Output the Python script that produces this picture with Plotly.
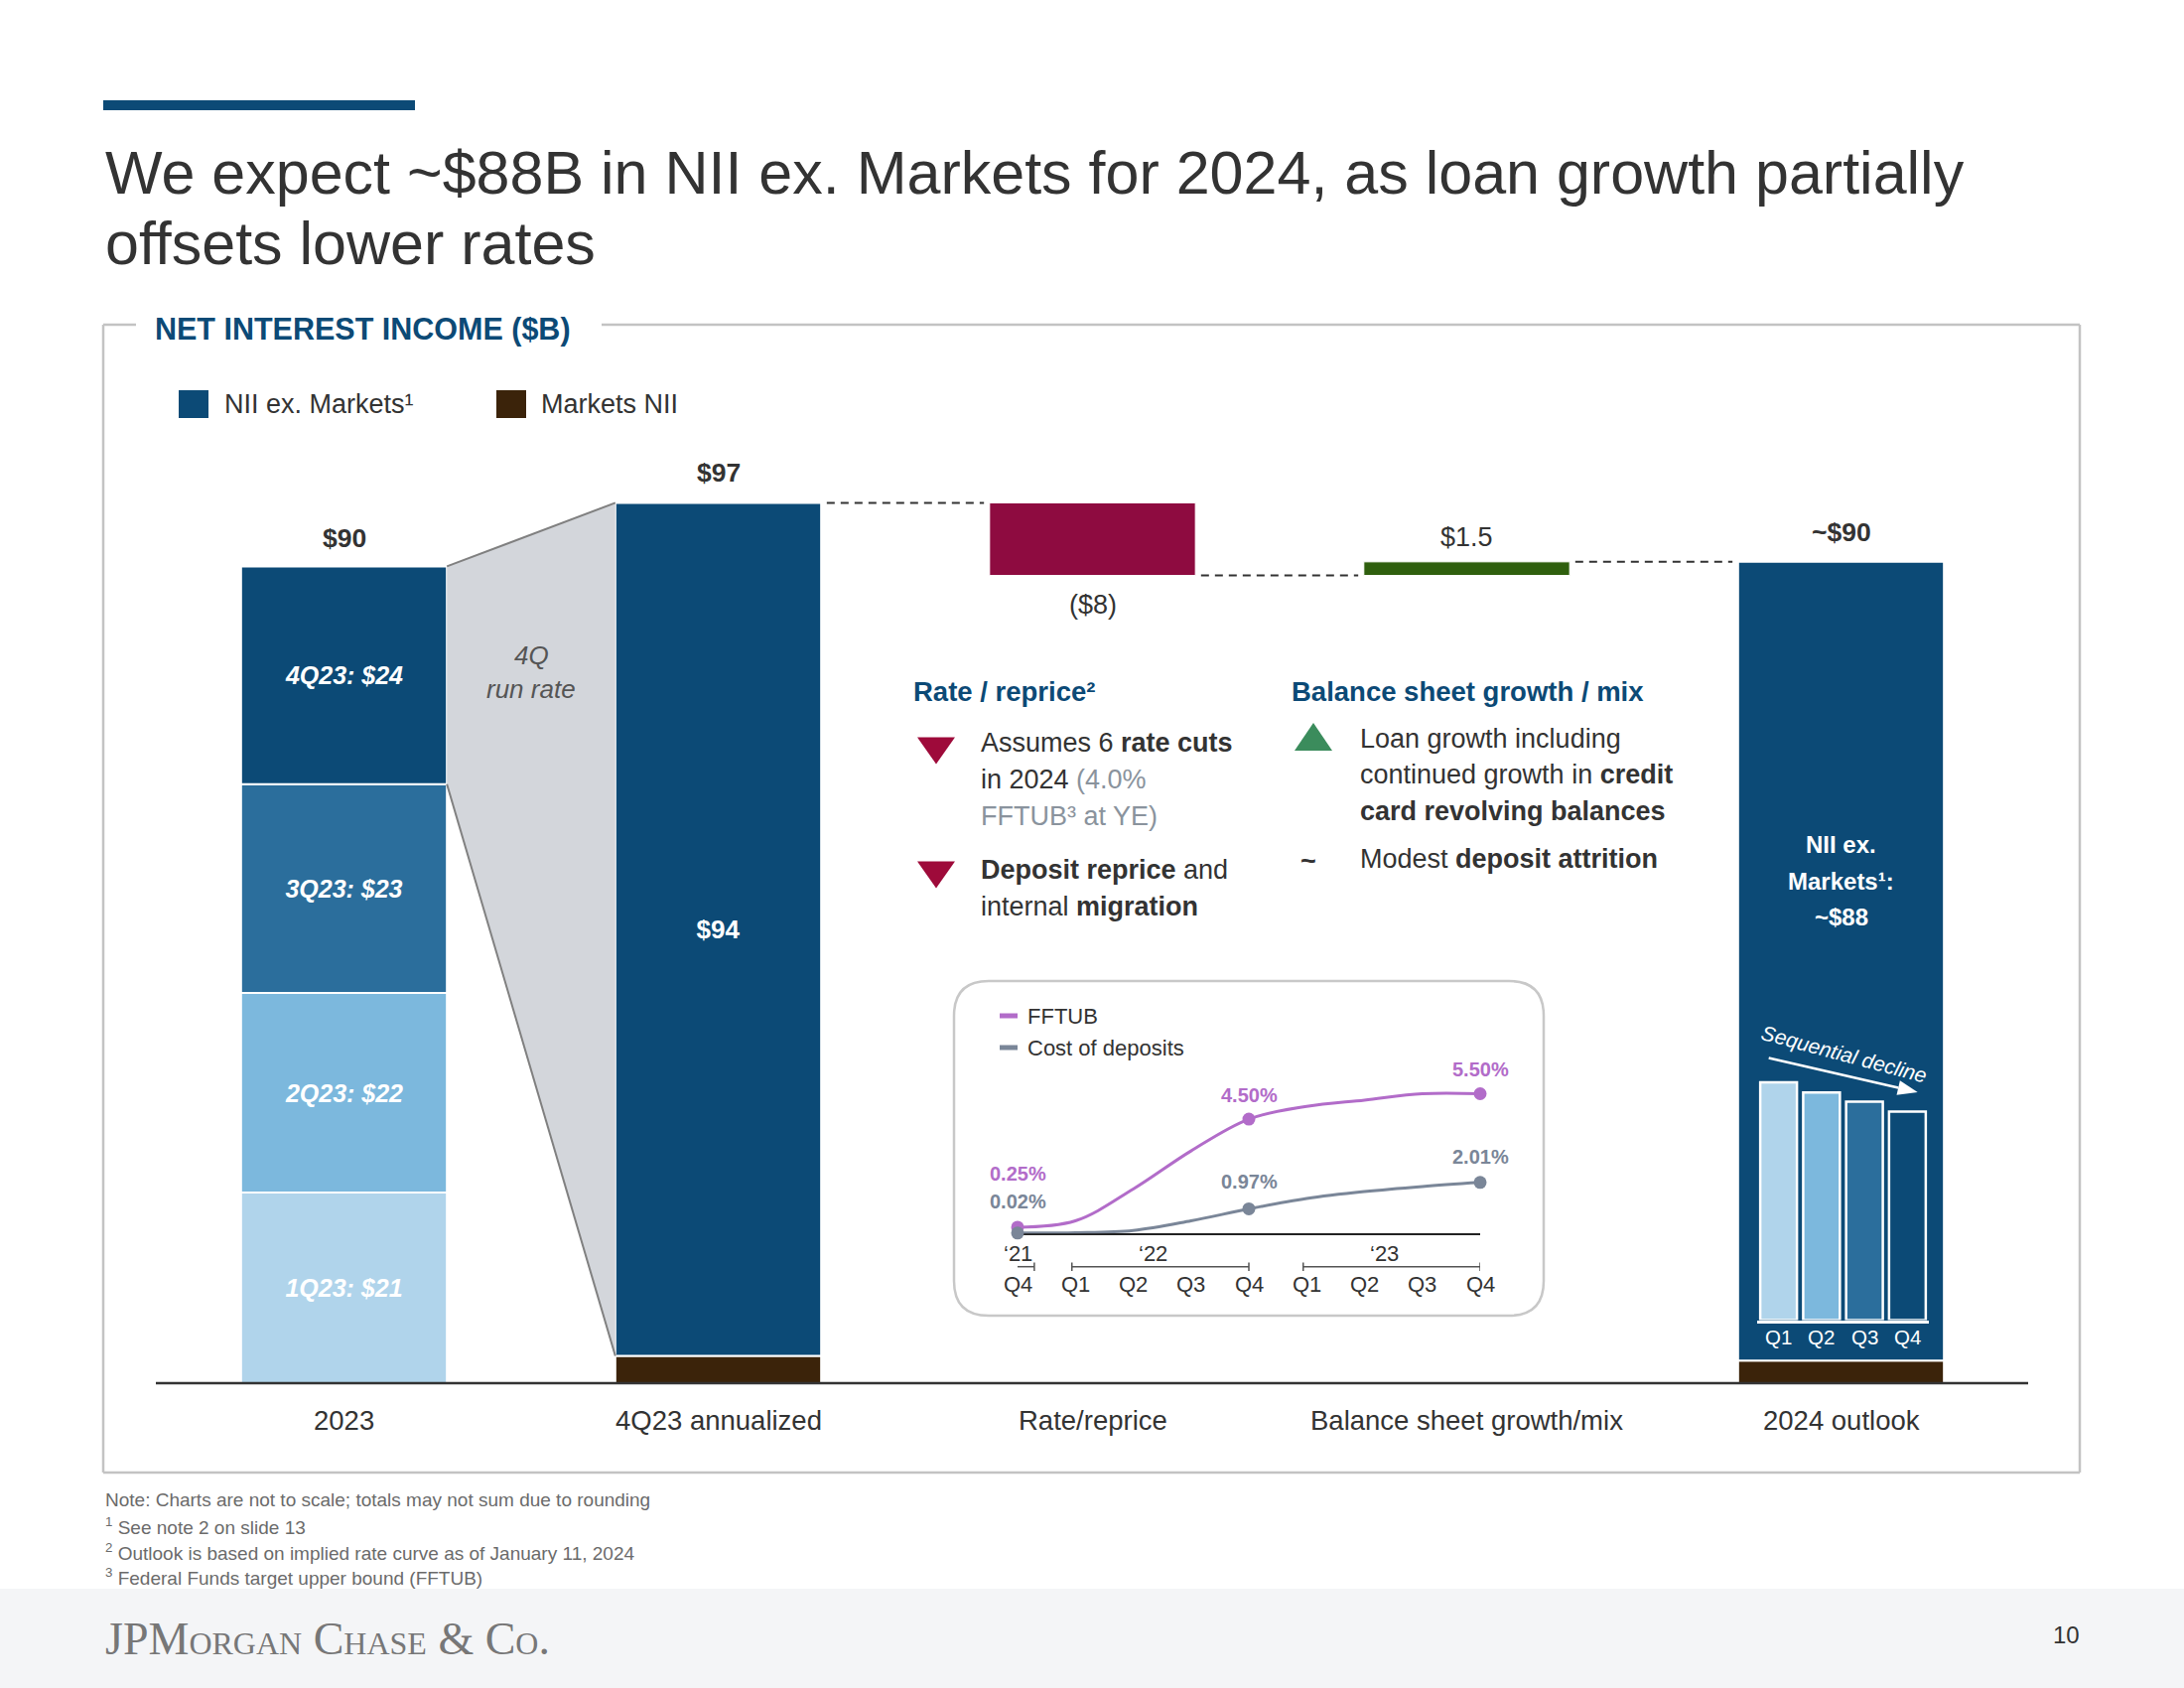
import math
import plotly.graph_objects as go

W, H = 2200, 1700
def px(x): return x / W
def py(y): return 1 - y / H

FONT = "Liberation Sans, Arial, Helvetica, sans-serif"
SERIF = "Liberation Serif, Times New Roman, serif"
TXT = "#333333"
NAVY = "#0c4a76"
BROWN = "#3b230a"
Q_COLORS = ["#b0d4eb", "#7cb8dd", "#2b6e9c", "#0c4a76"]
RATE_C = "#8e0b40"
BS_C = "#2f5f0e"
TRAP_C = "#d3d6db"
PURPLE = "#b26cc9"
SLATE = "#7a8698"
FRAME = "#c3c3c3"

# ---------------- data ----------------
categories = ["2023", "4Q23 annualized", "Rate/reprice", "Balance sheet growth/mix", "2024 outlook"]
quarter_names_2023 = ["1Q23", "2Q23", "3Q23", "4Q23"]
nii_2023_quarters = [21, 22, 23, 24]
nii_2023_total = 90
annualized_nii_ex_markets = 94
annualized_markets_nii = 3
annualized_total = 97
rate_reprice_change = -8
balance_sheet_change = 1.5
outlook_nii_ex_markets = 88
outlook_markets_nii = 2.5

inset_quarter_labels = ["Q4", "Q1", "Q2", "Q3", "Q4", "Q1", "Q2", "Q3", "Q4"]
inset_year_labels = ["‘21", "‘22", "‘23"]
inset_year_centers = [0, 2.35, 6.35]
inset_year_spans = [(-0.25, 0.29), (0.94, 4.0), (4.94, 8.0)]
fftub = [0.25, 0.50, 1.75, 3.25, 4.50, 5.00, 5.25, 5.50, 5.50]
cost_of_deposits = [0.02, 0.03, 0.12, 0.50, 0.97, 1.38, 1.65, 1.85, 2.01]
labelled_points = [0, 4, 8]

outlook_quarters = ["Q1", "Q2", "Q3", "Q4"]
outlook_quarter_nii = [23.5, 22.5, 21.6, 20.6]

# ---------------- derived ----------------
BW = 0.55
HALF = BW / 2
base_2023 = [sum(nii_2023_quarters[:i]) for i in range(4)]
rate_bottom = annualized_total + rate_reprice_change
bs_top = rate_bottom + balance_sheet_change
outlook_total = outlook_nii_ex_markets + outlook_markets_nii

fig = go.Figure()

# gray "run rate" trapezoid
fig.add_trace(go.Scatter(
    x=[HALF, 1 - HALF, 1 - HALF, HALF],
    y=[nii_2023_total, annualized_total, annualized_markets_nii, nii_2023_total - nii_2023_quarters[-1]],
    fill="toself", fillcolor=TRAP_C, mode="lines", line=dict(width=0),
    hoverinfo="skip", showlegend=False))
fig.add_trace(go.Scatter(
    x=[HALF, 1 - HALF, None, HALF, 1 - HALF],
    y=[nii_2023_total, annualized_total, None,
       nii_2023_total - nii_2023_quarters[-1], annualized_markets_nii],
    mode="lines", line=dict(color="#808080", width=2), hoverinfo="skip", showlegend=False))

# 2023 quarterly stack
fig.add_trace(go.Bar(
    x=[0] * 4, y=nii_2023_quarters, base=base_2023, width=BW,
    marker=dict(color=Q_COLORS, line=dict(color="white", width=2)),
    text=[f"{q}: ${v}" for q, v in zip(quarter_names_2023, nii_2023_quarters)],
    textposition="inside", insidetextanchor="middle", constraintext="none",
    textfont=dict(family=FONT, size=25, color="white", weight="bold", style="italic"),
    showlegend=False))

# Markets NII
fig.add_trace(go.Bar(
    x=[1, 4], y=[annualized_markets_nii, outlook_markets_nii], base=[0, 0], width=BW,
    marker=dict(color=BROWN, line=dict(color="white", width=2)), showlegend=False))
# NII ex. Markets: 4Q23 annualized (labelled) and 2024 outlook
fig.add_trace(go.Bar(
    x=[1], y=[annualized_nii_ex_markets], base=[annualized_markets_nii], width=BW,
    marker=dict(color=NAVY, line=dict(color="white", width=2)),
    text=[f"${annualized_nii_ex_markets}"], textposition="inside",
    insidetextanchor="middle", constraintext="none",
    textfont=dict(family=FONT, size=26, color="white", weight="bold"), showlegend=False))
fig.add_trace(go.Bar(
    x=[4], y=[outlook_nii_ex_markets], base=[outlook_markets_nii], width=BW,
    marker=dict(color=NAVY, line=dict(color="white", width=2)), showlegend=False))
# Rate / reprice
fig.add_trace(go.Bar(
    x=[2], y=[abs(rate_reprice_change)], base=[rate_bottom], width=BW,
    marker=dict(color=RATE_C, line=dict(color="white", width=1)), showlegend=False))
# Balance sheet growth
fig.add_trace(go.Bar(
    x=[3], y=[balance_sheet_change], base=[rate_bottom], width=BW,
    marker=dict(color=BS_C, line=dict(color="white", width=1)), showlegend=False))

# dashed connectors
g = 0.015
fig.add_trace(go.Scatter(
    x=[1 + HALF + g, 2 - HALF - g, None, 2 + HALF + g, 3 - HALF - g, None, 3 + HALF + g, 4 - HALF - g],
    y=[annualized_total, annualized_total, None, rate_bottom, rate_bottom, None, bs_top, bs_top],
    mode="lines", line=dict(color=TXT, width=2, dash="8px,6px"), hoverinfo="skip", showlegend=False))

# ---------------- inset line chart ----------------
fig.add_trace(go.Scatter(
    x=list(range(len(fftub))), y=fftub, mode="lines", line=dict(color=PURPLE, width=3, shape="spline", smoothing=1),
    xaxis="x2", yaxis="y2", cliponaxis=False, showlegend=False, hoverinfo="skip"))
fig.add_trace(go.Scatter(
    x=list(range(len(cost_of_deposits))), y=cost_of_deposits, mode="lines",
    line=dict(color=SLATE, width=3, shape="spline", smoothing=1),
    xaxis="x2", yaxis="y2", cliponaxis=False, showlegend=False, hoverinfo="skip"))
fig.add_trace(go.Scatter(
    x=labelled_points, y=[fftub[i] for i in labelled_points], mode="markers",
    marker=dict(color=PURPLE, size=13), xaxis="x2", yaxis="y2", cliponaxis=False, showlegend=False))
fig.add_trace(go.Scatter(
    x=labelled_points, y=[cost_of_deposits[i] for i in labelled_points], mode="markers",
    marker=dict(color=SLATE, size=13), xaxis="x2", yaxis="y2", cliponaxis=False, showlegend=False))

# ---------------- mini quarterly outlook bars ----------------
fig.add_trace(go.Bar(
    x=list(range(4)), y=outlook_quarter_nii, width=0.855,
    marker=dict(color=Q_COLORS, line=dict(color="white", width=2.5)),
    xaxis="x3", yaxis="y3", showlegend=False))

# ---------------- axes ----------------
Y_PER = 9.14       # px per $B on main chart
INS_PER = 25.6     # px per % on inset
MINI_PER = 10.19
fig.update_layout(
    width=W, height=H, margin=dict(l=0, r=0, t=0, b=0),
    paper_bgcolor="white", plot_bgcolor="rgba(0,0,0,0)",
    barmode="overlay", showlegend=False,
    xaxis=dict(domain=[px(157), px(2043)], range=[-0.50265, 4.5], visible=False),
    yaxis=dict(domain=[py(1393), py(393)], range=[0, 1000 / Y_PER], visible=False),
    xaxis2=dict(domain=[px(1025), px(1491)], range=[0, 8], anchor="y2", showline=True,
                linecolor="#222222", linewidth=2, showgrid=False, zeroline=False,
                showticklabels=False, ticks="", layer="below traces"),
    yaxis2=dict(domain=[py(1242.3), py(1090)], range=[0, (1242.3 - 1090) / INS_PER],
                anchor="x2", visible=False),
    xaxis3=dict(domain=[px(1770), px(1943)], range=[-0.5, 3.5], anchor="y3", showline=True,
                linecolor="white", linewidth=2.5, showgrid=False, zeroline=False,
                showticklabels=False, ticks=""),
    yaxis3=dict(domain=[py(1329.5), py(1050)], range=[0, (1329.5 - 1050) / MINI_PER],
                anchor="x3", visible=False),
)

shapes = []
def rect(x0, y0, x1, y1, color, layer="below"):
    shapes.append(dict(type="rect", xref="paper", yref="paper", x0=px(x0), x1=px(x1),
                       y0=py(y1), y1=py(y0), fillcolor=color, line=dict(width=0), layer=layer))
def line(x0, y0, x1, y1, color, width, layer="below"):
    shapes.append(dict(type="line", xref="paper", yref="paper", x0=px(x0), x1=px(x1),
                       y0=py(y0), y1=py(y1), line=dict(color=color, width=width), layer=layer))
def poly(pts, color):
    path = "M " + " L ".join(f"{px(a)},{py(b)}" for a, b in pts) + " Z"
    shapes.append(dict(type="path", xref="paper", yref="paper", path=path,
                       fillcolor=color, line=dict(width=0), layer="above"))
def tri(cx, cy, w, h, color, up):
    if up:
        pts = [(cx - w / 2, cy + h / 2), (cx + w / 2, cy + h / 2), (cx, cy - h / 2)]
    else:
        pts = [(cx - w / 2, cy - h / 2), (cx + w / 2, cy - h / 2), (cx, cy + h / 2)]
    poly(pts, color)

# footer band + accent bar
rect(0, 1600, 2200, 1700, "#f4f5f7")
rect(104, 101, 418, 111, NAVY)
# section frame
line(104, 327, 104, 1483, FRAME, 2.5)
line(104, 1483, 2095, 1483, FRAME, 2.5)
line(2095, 327, 2095, 1483, FRAME, 2.5)
line(104, 327, 137, 327, FRAME, 2.5)
line(606, 327, 2095, 327, FRAME, 2.5)
# baseline
line(157, 1393, 2043, 1393, TXT, 2.5, layer="above")
# legend swatches
rect(180, 393, 210, 421, NAVY)
rect(500, 393, 530, 421, BROWN)
# bullets
tri(943, 756, 38, 27, "#9e0a3a", False)
tri(943, 881, 38, 27, "#9e0a3a", False)
tri(1323, 742, 38, 28, "#3b8c5c", True)

# "sequential decline" arrow (white)
tx, ty, hx, hy = 1781.7, 1065.5, 1931.7, 1100
L = math.hypot(hx - tx, hy - ty)
ux, uy = (hx - tx) / L, (hy - ty) / L
bx, by = hx - 20 * ux, hy - 20 * uy
line(tx, ty, bx, by, "white", 2.5, layer="above")
poly([(hx, hy), (bx - 7.5 * uy, by + 7.5 * ux), (bx + 7.5 * uy, by - 7.5 * ux)], "white")

# inset rounded box
x0, x1, yt, yb = px(961), px(1555), py(988), py(1325)
rx, ry = 35 / W, 35 / H
path = (f"M {x0+rx},{yt} L {x1-rx},{yt} Q {x1},{yt} {x1},{yt-ry} L {x1},{yb+ry} "
        f"Q {x1},{yb} {x1-rx},{yb} L {x0+rx},{yb} Q {x0},{yb} {x0},{yb+ry} "
        f"L {x0},{yt-ry} Q {x0},{yt} {x0+rx},{yt} Z")
shapes.append(dict(type="path", xref="paper", yref="paper", path=path,
                   fillcolor="white", line=dict(color="#c8c8c8", width=2.5), layer="below"))
# inset legend dashes
line(1007, 1023, 1025, 1023, PURPLE, 5, layer="above")
line(1007, 1055, 1025, 1055, SLATE, 5, layer="above")
# inset year brackets
for a, b in inset_year_spans:
    shapes.append(dict(type="line", xref="x2", yref="paper", x0=a, x1=b, y0=py(1275.7), y1=py(1275.7),
                       line=dict(color="#555555", width=1.5)))
    for e in (a, b):
        shapes.append(dict(type="line", xref="x2", yref="paper", x0=e, x1=e, y0=py(1271.5), y1=py(1280),
                           line=dict(color="#555555", width=1.5)))

fig.update_layout(shapes=shapes)

ann = []
def text(x, y, s, size, color=TXT, xanchor="center", bold=False, italic=False,
         xref="paper", yref="paper", yshift=0, family=FONT, **kw):
    if bold:
        s = f"<b>{s}</b>"
    if italic:
        s = f"<i>{s}</i>"
    ann.append(dict(x=(px(x) if xref == "paper" else x), y=(py(y) if yref == "paper" else y),
                    xref=xref, yref=yref, text=s, showarrow=False, xanchor=xanchor, yanchor="middle",
                    yshift=yshift, font=dict(family=family, size=size, color=color), **kw))

# title
text(104, 174, "We expect ~$88B in NII ex. Markets for 2024, as loan growth partially", 61, xanchor="left")
text(104, 245, "offsets lower rates", 61, xanchor="left")
text(154, 331, "NET INTEREST INCOME ($B)", 30.5, color=NAVY, xanchor="left", bold=True)

# legend
text(224, 407, "NII ex. Markets¹", 27, xanchor="left")
text(543, 407, "Markets NII", 27, xanchor="left")

# value labels
text(0, nii_2023_total, f"${nii_2023_total}", 26.5, bold=True, xref="x", yref="y", yshift=28)
text(1, annualized_total, f"${annualized_total}", 26.5, bold=True, xref="x", yref="y", yshift=30)
text(2, rate_bottom, f"(${abs(rate_reprice_change)})", 27, xref="x", yref="y", yshift=-29)
text(3, bs_top, f"${balance_sheet_change}", 27, xref="x", yref="y", yshift=25)
text(4, outlook_total, f"~${int(outlook_total)}", 26.5, bold=True, xref="x", yref="y", yshift=30)
# category labels
for i, c in enumerate(categories):
    text(i, 0, c, 27.5, xref="x", yref="y", yshift=-37)

# run rate
text(0.5, 659.5, "4Q", 26, color="#555555", italic=True, xref="x")
text(0.5, 694.5, "run rate", 26, color="#555555", italic=True, xref="x")

# 2024 outlook inner text
for yy, s in zip([850, 887, 923], ["NII ex.", "Markets¹:", f"~${outlook_nii_ex_markets}"]):
    text(4, yy, s, 24, color="white", bold=True, xref="x")

# commentary
text(918, 696, "Rate / reprice²", 27.5, color=NAVY, xanchor="left", bold=True)
text(1299, 696, "Balance sheet growth / mix", 27.5, color=NAVY, xanchor="left", bold=True)
GR = "#8a939d"
left_lines = [(748, "Assumes 6 <b>rate cuts</b>"),
              (785, f"in 2024 <span style='color:{GR}'>(4.0%</span>"),
              (822, f"<span style='color:{GR}'>FFTUB³ at YE)</span>"),
              (876, "<b>Deposit reprice</b> and"),
              (913, "internal <b>migration</b>")]
for yy, s in left_lines:
    text(986, yy, s, 27, xanchor="left")
right_lines = [(744, "Loan growth including"),
               (780, "continued growth in <b>credit</b>"),
               (817, "<b>card revolving balances</b>"),
               (865, "Modest <b>deposit attrition</b>")]
for yy, s in right_lines:
    text(1368, yy, s, 27, xanchor="left")
text(1318, 867, "~", 27, bold=True)

# inset legend + labels
text(1033, 1023, "FFTUB", 22, xanchor="left")
text(1033, 1055, "Cost of deposits", 22, xanchor="left")
fft_shift = [54, 24, 25]
cod_shift = [32, 27, 26]
for k, i in enumerate(labelled_points):
    text(i, fftub[i], f"{fftub[i]:.2f}%", 20, color=PURPLE, bold=True, xref="x2", yref="y2", yshift=fft_shift[k])
    text(i, cost_of_deposits[i], f"{cost_of_deposits[i]:.2f}%", 20, color=SLATE, bold=True,
         xref="x2", yref="y2", yshift=cod_shift[k])
for i, q in enumerate(inset_quarter_labels):
    text(i, 1293.3, q, 22, xref="x2")
for xc, yl in zip(inset_year_centers, inset_year_labels):
    text(xc, 1262, yl, 22, xref="x2")

# mini chart labels
for i, q in enumerate(outlook_quarters):
    text(i, 1346.7, q, 20.5, color="white", xref="x3")
text(1858, 1061, "Sequential decline", 21, color="white", italic=True, textangle=15)

# footnotes
GRAY_NOTE = "#6b6b6b"
notes = [(1510.7, "Note: Charts are not to scale; totals may not sum due to rounding"),
         (1536.7, "<sup>1</sup> See note 2 on slide 13"),
         (1562.7, "<sup>2</sup> Outlook is based on implied rate curve as of January 11, 2024"),
         (1588, "<sup>3</sup> Federal Funds target upper bound (FFTUB)")]
for yy, s in notes:
    text(104, yy, s, 19, color=GRAY_NOTE, xanchor="left")

# footer
ann.append(dict(x=px(104), y=py(1650), xref="paper", yref="paper", text="JPMorgan Chase &amp; Co.",
                showarrow=False, xanchor="left", yanchor="middle",
                font=dict(family=SERIF, size=46, color="#777777", variant="small-caps")))
text(2081, 1646, "10", 24)

fig.update_layout(annotations=ann)
fig.write_html("out.html", config={"displayModeBar": False},
               post_script="document.body.style.margin='0';document.body.style.overflow='hidden';")
